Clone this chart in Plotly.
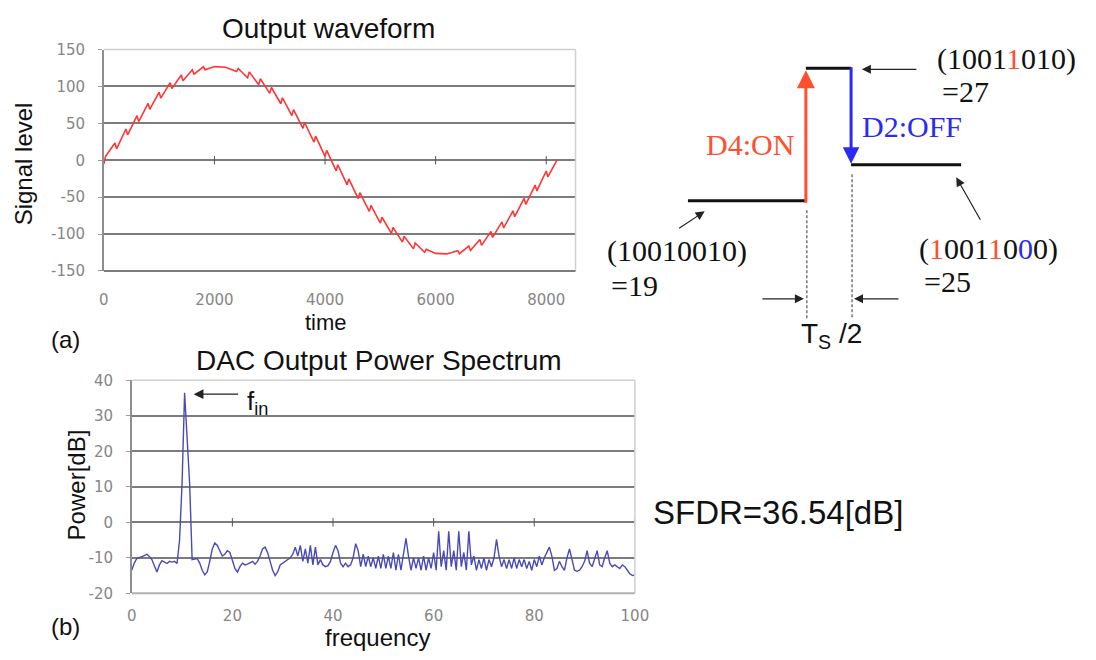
import plotly.graph_objects as go

W, H = 1096, 660


def px(x):
    return x / W


def py(y):
    return 1 - y / H


# ---------------- (a) DAC output waveform ----------------
wave_t = [0, 200, 400, 600, 800, 1000, 1200, 1400, 1600, 1800, 2000, 2200, 2400, 2600,
          2800, 3000, 3200, 3400, 3600, 3800, 4000, 4200, 4400, 4600, 4800, 5000, 5200,
          5400, 5600, 5800, 6000, 6200, 6400, 6600, 6800, 7000, 7200, 7400, 7600, 7800,
          8000, 8192]
wave_level = [0, 19.4, 38.4, 56.4, 73.1, 88.2, 101.1, 111.6, 119.6, 124.7, 126.9, 126.1,
              122.4, 115.8, 106.4, 94.6, 80.6, 64.6, 47.2, 28.6, 9.3, -10.1, -29.3, -47.9,
              -65.3, -81.2, -95.1, -106.9, -116.1, -122.6, -126.2, -126.9, -124.6, -119.3,
              -111.3, -100.6, -87.6, -72.5, -55.7, -37.6, -18.6, 0]
# overshoot of the glitch at each code transition
wave_glitch = [-5, 4, 4, 4, 4, 4, 4, 4, 3, 2, 0, 0, -2, -4, -4, -4, -4, -4, -4, -4, -4,
               -4, -4, -4, -4, -4, -4, -4, -4, -2, 0, 0, 2, 3, 4, 4, 4, 4, 4, 4, 4, 0]

time_ticks = [0, 2000, 4000, 6000, 8000]
level_ticks = [-150, -100, -50, 0, 50, 100, 150]

# ---------------- (b) DAC output power spectrum ----------------
spec_freq = [i * 0.5 for i in range(201)]
spec_power = [
    -13.5, -11.5, -10.2, -10.0, -9.8, -9.4, -9.0, -9.6, -10.5, -12.5,
    -14.0, -12.0, -10.8, -11.2, -11.6, -11.0, -11.2, -11.0, -11.6, -5.0,
    11.0, 36.5, 25.0, 11.0, -10.5, -10.4, -10.2, -11.5, -13.5, -14.8,
    -14.0, -11.0, -7.5, -5.8, -6.5, -8.0, -9.5, -9.0, -8.0, -8.5,
    -10.5, -13.0, -14.0, -12.5, -11.5, -12.0, -11.8, -11.5, -11.0, -11.8,
    -11.0, -9.5, -7.5, -7.0, -8.5, -11.0, -13.5, -15.0, -14.0, -12.0,
    -11.5, -11.0, -10.5, -10.0, -9.0, -7.0, -9.5, -6.5, -11.0, -7.5,
    -11.5, -6.5, -12.0, -7.0, -12.0, -10.5, -12.0, -12.5, -12.2, -11.0,
    -8.5, -6.5, -8.0, -11.5, -12.5, -11.5, -12.5, -12.0, -10.0, -6.0,
    -8.0, -12.5, -9.0, -12.5, -9.5, -12.5, -10.0, -13.0, -9.5, -13.0,
    -9.0, -13.0, -9.5, -13.0, -8.5, -13.5, -9.0, -13.5, -9.0, -4.5,
    -9.5, -13.5, -10.0, -13.0, -10.0, -13.5, -9.5, -13.5, -10.0, -13.0,
    -8.5, -13.5, -2.5, -12.5, -8.0, -13.5, -2.5, -12.5, -8.0, -13.5,
    -2.5, -12.5, -8.5, -13.5, -2.5, -12.0, -9.5, -13.5, -10.5, -13.0,
    -10.0, -13.5, -10.5, -12.5, -10.0, -4.8, -9.5, -12.5, -10.5, -13.0,
    -10.5, -13.0, -10.0, -13.0, -10.5, -12.5, -10.5, -13.0, -11.0, -13.5,
    -10.5, -12.5, -9.5, -12.0, -10.0, -8.5, -7.0, -9.5, -13.5, -13.0,
    -11.0, -12.5, -13.5, -10.0, -7.5, -10.5, -13.5, -13.8, -13.5, -12.5,
    -11.0, -8.0, -11.5, -12.5, -10.0, -8.0, -12.0, -12.5, -10.0, -8.0,
    -11.5, -12.5, -12.0, -12.5, -13.0, -12.0, -12.5, -13.5, -14.5, -15.0,
    -14.8,
]
freq_ticks = [0, 20, 40, 60, 80, 100]
power_ticks = [-20, -10, 0, 10, 20, 30, 40]
sfdr_db = 36.54

# ---------------- glitch diagram labels ----------------
RED = "#ff4f2e"
BLUE = "#2a2af2"


def bit(c, color):
    return f'<span style="color:{color}">{c}</span>'


code_before = "(10010010)"
value_before = "=19"
code_glitch = "(1001" + bit("1", RED) + "010)"
value_glitch = "=27"
code_after = "(" + bit("1", RED) + "001" + bit("1", RED) + "0" + bit("0", BLUE) + "0)"
value_after = "=25"

# waveform polyline with the glitch strokes
wx, wy = [], []
for t, v, g in zip(wave_t, wave_level, wave_glitch):
    if g:
        wx += [t, t + 30]
        wy += [v + g, v - g]
    else:
        wx.append(t)
        wy.append(v)

SANS = "Arial, Liberation Sans, sans-serif"
SERIF = "Times New Roman, Liberation Serif, serif"
tickfont = dict(family="DejaVu Sans", size=15, color="#868686")
GRID = "#7c7c7c"
BORDER = "#d0d0d0"

fig = go.Figure()
fig.add_trace(go.Scatter(x=wx, y=wy, mode="lines", xaxis="x", yaxis="y",
                         line=dict(color="#ff3535", width=1.6), hoverinfo="skip"))
fig.add_trace(go.Scatter(x=time_ticks[1:], y=[0] * (len(time_ticks) - 1), mode="markers",
                         xaxis="x", yaxis="y", hoverinfo="skip",
                         marker=dict(symbol="line-ns", size=6, line=dict(color="#555", width=1))))
fig.add_trace(go.Scatter(x=spec_freq, y=spec_power, mode="lines", xaxis="x2", yaxis="y2",
                         line=dict(color="#4a4ab6", width=1.4), hoverinfo="skip"))
fig.add_trace(go.Scatter(x=freq_ticks[1:], y=[0] * (len(freq_ticks) - 1), mode="markers",
                         xaxis="x2", yaxis="y2", hoverinfo="skip",
                         marker=dict(symbol="line-ns", size=6, line=dict(color="#555", width=1))))


def xax(dom, rng, ticks, anchor, standoff):
    return dict(domain=dom, range=rng, anchor=anchor, tickmode="array", tickvals=ticks,
                ticktext=[str(v) for v in ticks], showgrid=False, zeroline=False,
                showline=False, ticks="", tickfont=tickfont, ticklabelstandoff=standoff,
                fixedrange=True)


def yax(dom, rng, ticks, anchor):
    return dict(domain=dom, range=rng, anchor=anchor, tickmode="array", tickvals=ticks,
                ticktext=[str(v) for v in ticks], showgrid=True, gridcolor=GRID, gridwidth=2,
                zeroline=False, showline=True, linecolor="#8e8e8e", linewidth=1.5,
                ticks="outside", ticklen=4, tickcolor="#9a9a9a", tickfont=tickfont,
                ticklabelstandoff=10, fixedrange=True)


shapes = []
for xr, yr in (("x domain", "y domain"), ("x2 domain", "y2 domain")):
    shapes += [
        dict(type="line", xref=xr, yref=yr, x0=0, x1=1, y0=1, y1=1,
             line=dict(color=BORDER, width=1.5), layer="above"),
        dict(type="line", xref=xr, yref=yr, x0=1, x1=1, y0=0, y1=1,
             line=dict(color=BORDER, width=1.5), layer="above"),
        dict(type="line", xref=xr, yref=yr, x0=0, x1=1, y0=0, y1=0,
             line=dict(color=GRID if xr == "x domain" else "#b0b0b0", width=2), layer="above"),
    ]


def seg(x0, y0, x1, y1, color="#111", width=3, dash="solid"):
    return dict(type="line", xref="paper", yref="paper", x0=px(x0), y0=py(y0),
                x1=px(x1), y1=py(y1), line=dict(color=color, width=width, dash=dash))


# signal levels of the transition diagram
shapes += [
    seg(695, 197, 815, 197),
    seg(815, 61, 861, 61),
    seg(861, 160, 973, 160),
    seg(816, 207, 816, 318, color="#555", width=1.2, dash="3px,2px"),
    seg(862, 170, 862, 318, color="#555", width=1.2, dash="3px,2px"),
]

annotations = []


def arrow(xh, yh, xt, yt, color="#222", width=1.2, size=1.5):
    annotations.append(dict(x=px(xh), y=py(yh), xref="paper", yref="paper", text="",
                            showarrow=True, ax=xt - xh, ay=yt - yh, axref="pixel",
                            ayref="pixel", arrowhead=2, arrowsize=size, arrowwidth=width,
                            arrowcolor=color, standoff=0, startstandoff=0))


def label(text, x, y, size, family=SANS, color="#111", xanchor="left", angle=0):
    annotations.append(dict(x=px(x), y=py(y), xref="paper", yref="paper", text=text,
                            showarrow=False, xanchor=xanchor, yanchor="middle",
                            textangle=angle, font=dict(family=family, size=size, color=color)))


arrow(815, 63, 815, 197, color=RED, width=3, size=1.2)
arrow(861, 159, 861, 61, color=BLUE, width=3, size=1.1)
arrow(872, 62, 928, 62)
arrow(712, 208, 685, 226)
arrow(968, 173, 993, 217)
arrow(813, 298, 770, 298)
arrow(864, 298, 910, 298)
arrow(192, 396, 238, 396, width=1.3)

label(code_glitch, 946, 51, 30, SERIF)
label(value_glitch, 951, 85, 30, SERIF)
label("D2:OFF", 870, 121, 30, SERIF, color=BLUE)
label("D4:ON", 711, 139, 30, SERIF, color=RED)
label(code_before, 611, 249, 30, SERIF)
label(value_before, 615, 284, 30, SERIF)
label(code_after, 928, 247, 30, SERIF)
label(value_after, 933, 280, 30, SERIF)
label("T<sub>S</sub> /2", 808, 336, 28)
label("f<sub>in</sub>", 244, 405, 26)

label(f"SFDR={sfdr_db:.2f}[dB]", 657, 518, 33)
label("(a)", 45, 340, 24)
label("(b)", 45, 635, 24)
label("Output waveform", 329, 20, 28, xanchor="center")
label("DAC Output Power Spectrum", 381, 361, 28, xanchor="center")
label("Signal level", 19, 159, 24, xanchor="center", angle=-90)
label("time", 327, 322, 22, xanchor="center")
label("Power[dB]", 73, 489, 24, xanchor="center", angle=-90)
label("frequency", 379, 646, 24, xanchor="center")

fig.update_layout(
    width=W, height=H, autosize=False,
    margin=dict(l=0, r=0, t=0, b=0),
    paper_bgcolor="white", plot_bgcolor="white",
    showlegend=False,
    xaxis=xax([px(100.6), px(580.6)], [0, 8530], time_ticks, "y", 18),
    yaxis=yax([py(269.3), py(41.7)], [-150, 150], level_ticks, "x"),
    xaxis2=xax([px(129), px(641)], [0, 100], freq_ticks, "y2", 12),
    yaxis2=yax([py(600.7), py(381.7)], [-20, 40], power_ticks, "x2"),
    shapes=shapes,
    annotations=annotations,
)

fig.write_html("out.html")
